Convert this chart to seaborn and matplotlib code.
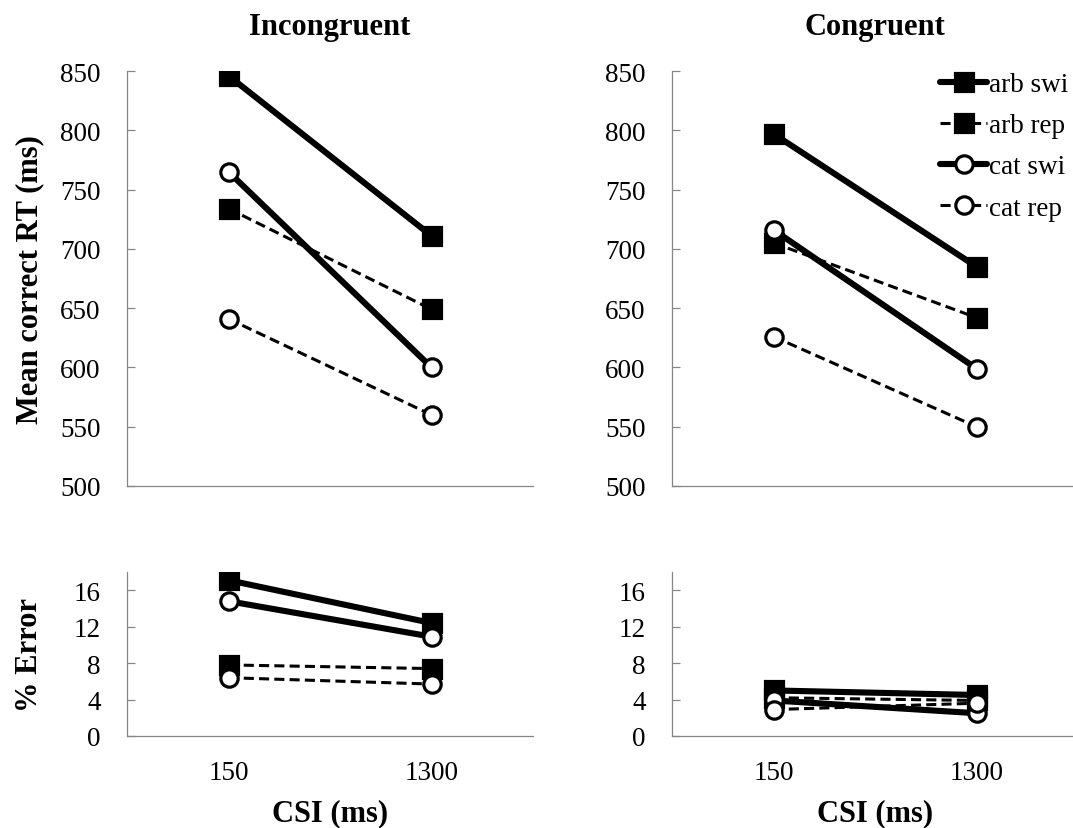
import numpy as np
import pandas as pd
import matplotlib
matplotlib.use("Agg")
import matplotlib.pyplot as plt
import seaborn as sns

sns.set_theme(style="white")
plt.rcParams["font.family"] = ["Liberation Serif", "DejaVu Serif"]
plt.rcParams["text.color"] = "black"
plt.rcParams["axes.labelcolor"] = "black"

# Cue-stimulus interval conditions (x categories)
csi = ["150", "1300"]
series = ["arb swi", "arb rep", "cat swi", "cat rep"]

# Mean correct RT (ms)
rt_incong_arb_swi = [846, 711]
rt_incong_arb_rep = [734, 649]
rt_incong_cat_swi = [765, 600]
rt_incong_cat_rep = [641, 560]

rt_cong_arb_swi = [797, 685]
rt_cong_arb_rep = [705, 642]
rt_cong_cat_swi = [716, 599]
rt_cong_cat_rep = [626, 550]

# Error rates (%)
err_incong_arb_swi = [17.1, 12.4]
err_incong_arb_rep = [7.8, 7.4]
err_incong_cat_swi = [14.8, 10.9]
err_incong_cat_rep = [6.4, 5.7]

err_cong_arb_swi = [5.0, 4.5]
err_cong_arb_rep = [4.2, 3.9]
err_cong_cat_swi = [3.9, 2.5]
err_cong_cat_rep = [2.9, 3.6]

rt_ticks = [500, 550, 600, 650, 700, 750, 800, 850]
err_ticks = [0, 4, 8, 12, 16]

AXIS_GREY = "#868686"
W, H = 1073, 829
fig = plt.figure(figsize=(W / 100, H / 100), dpi=100)


def frac_x(px):
    return px / W


def frac_y(px):
    return 1 - px / H


ax_w = 406
top_rt, bot_rt = 72, 487
top_err, bot_err = 573, 737
lefts = [127, 672]

styles = {
    "arb swi": dict(marker="s", ls="-", lw=4.4, mfc="black"),
    "arb rep": dict(marker="s", ls=(0, (3.3, 1.7)), lw=2.2, mfc="black"),
    "cat swi": dict(marker="o", ls="-", lw=4.4, mfc="white"),
    "cat rep": dict(marker="o", ls=(0, (3.3, 1.7)), lw=2.2, mfc="white"),
}

panels = {
    "Incongruent": (
        [rt_incong_arb_swi, rt_incong_arb_rep, rt_incong_cat_swi, rt_incong_cat_rep],
        [err_incong_arb_swi, err_incong_arb_rep, err_incong_cat_swi, err_incong_cat_rep],
    ),
    "Congruent": (
        [rt_cong_arb_swi, rt_cong_arb_rep, rt_cong_cat_swi, rt_cong_cat_rep],
        [err_cong_arb_swi, err_cong_arb_rep, err_cong_cat_swi, err_cong_cat_rep],
    ),
}


def style_axis(ax, ticks, lim):
    for side in ["top", "right"]:
        ax.spines[side].set_visible(False)
    for side in ["left", "bottom"]:
        ax.spines[side].set_color(AXIS_GREY)
        ax.spines[side].set_linewidth(0.9)
    ax.set_ylim(*lim)
    ax.set_yticks(ticks)
    ax.set_xlim(-0.5, 1.5)
    ax.tick_params(axis="y", direction="in", length=6, width=0.9, color=AXIS_GREY,
                   labelsize=19.5, pad=19, left=True, labelcolor="black")
    ax.tick_params(axis="x", length=0, labelsize=19.5, pad=17, labelcolor="black")
    ax.set_facecolor("white")
    ax.grid(False)


def draw_series(ax, values_list):
    for name, vals in zip(series, values_list):
        st = styles[name]
        sns.lineplot(x=csi, y=vals, ax=ax, sort=False, color="black",
                     marker=st["marker"], linestyle=st["ls"], linewidth=st["lw"],
                     markersize=12.5, markerfacecolor=st["mfc"],
                     markeredgecolor="black", markeredgewidth=2.3,
                     label=name, legend=False)


for i, (title, (rt_vals, err_vals)) in enumerate(panels.items()):
    left = lefts[i]
    ax_rt = fig.add_axes([frac_x(left), frac_y(bot_rt), ax_w / W, (bot_rt - top_rt) / H])
    draw_series(ax_rt, rt_vals)
    style_axis(ax_rt, rt_ticks, (500, 850))
    ax_rt.set_xticklabels([])
    ax_rt.set_xlabel("")
    ax_rt.set_title(title, fontsize=22, fontweight="bold", pad=27, color="black")

    ax_err = fig.add_axes([frac_x(left), frac_y(bot_err), ax_w / W, (bot_err - top_err) / H])
    draw_series(ax_err, err_vals)
    style_axis(ax_err, err_ticks, (0, 18))
    ax_err.set_xlabel("CSI (ms)", fontsize=22, fontweight="bold", labelpad=10)

    if i == 0:
        ax_rt.set_ylabel("Mean correct RT (ms)", fontsize=22, fontweight="bold")
        ax_rt.yaxis.set_label_coords(-0.205, 0.5)
        ax_err.set_ylabel("% Error", fontsize=22, fontweight="bold")
        ax_err.yaxis.set_label_coords(-0.205, 0.5)
    else:
        ax_rt.set_ylabel("")
        ax_err.set_ylabel("")
        handles, labels = ax_rt.get_legend_handles_labels()
        ax_rt.legend(handles, labels, loc="upper right", frameon=False,
                     bbox_to_anchor=(frac_x(1068), frac_y(73)),
                     bbox_transform=fig.transFigure, borderaxespad=0, borderpad=0,
                     fontsize=19.5, handlelength=1.75, handletextpad=0.05,
                     labelspacing=0.6, markerscale=1.0)

fig.savefig("out.png", dpi=100, facecolor="white")
